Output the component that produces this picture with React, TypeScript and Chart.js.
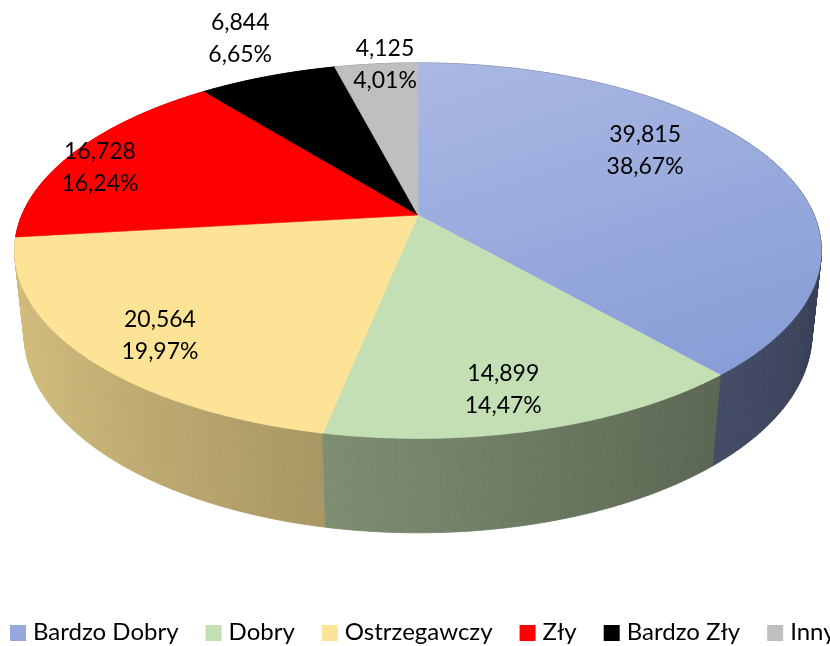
import React, { useEffect, useRef } from "react";
import { Chart, registerables } from "chart.js";

Chart.register(...registerables);

// ---- data ----
const categories = ["Bardzo Dobry", "Dobry", "Ostrzegawczy", "Zły", "Bardzo Zły", "Inny"];
const counts = [39815, 14899, 20564, 16728, 6844, 4125];
const shares = [38.67, 14.47, 19.97, 16.24, 6.65, 4.01];

// ---- styles ----
const topBack = ["#aab8e3", "#c5dfb4", "#fde396", "#ff0000", "#000000", "#bfbfbf"];
const topFront = ["#889dd7", "#c5dfb4", "#fde396", "#ff0000", "#000000", "#bfbfbf"];
const legendColors = ["#97a9dc", "#c5dfb4", "#fde396", "#ff0000", "#000000", "#bfbfbf"];
const sideBase: number[][] = [
  [140, 158, 214],
  [190, 214, 172],
  [253, 227, 150],
  [255, 0, 0],
  [0, 0, 0],
  [191, 191, 191],
];
const labelRadius = [0.674, 0.99, 0.93, 0.844, 1.071, 0.838];
const labelShiftDeg = [-11.3, 2.2, -2.75, -4.5, 1.6, 1.5];

const FONT_FAMILY = "Lato";
const FONT_SIZE = 23;
const LEGEND_FONT_SIZE = 24;
const LEGEND_GAP = 27;

// perspective camera for the 3D look
const VIEW = { zoom: 1.842, sinA: 0.457, cosA: 0.8894, dist: 4.681, depth: 0.238 };

function makeProjector(cx: number, cy: number, K: number) {
  return (r: number, th: number, Y: number): [number, number] => {
    const X = r * Math.sin(th);
    const Z = r * Math.cos(th);
    const w = 1 + (Z * VIEW.cosA - Y * VIEW.sinA) / VIEW.dist;
    return [cx + (K * X) / w, cy - (K * (Y * VIEW.cosA + Z * VIEW.sinA)) / w];
  };
}

const pie3d = {
  id: "pie3d",
  beforeDatasetsDraw(chart: any) {
    const ctx: CanvasRenderingContext2D = chart.ctx;
    const arcs = chart.getDatasetMeta(0).data as any[];
    if (!arcs.length) return false;
    const cx = arcs[0].x;
    const cy = arcs[0].y;
    const K = arcs[0].outerRadius * VIEW.zoom;
    const P = makeProjector(cx, cy, K);
    const h = -VIEW.depth;

    // side wall strips, painted back to front
    const strips: { i: number; a: number; b: number; z: number }[] = [];
    arcs.forEach((el: any, i: number) => {
      const t1 = el.startAngle + Math.PI / 2;
      const t2 = el.endAngle + Math.PI / 2;
      const n = Math.max(1, Math.ceil((t2 - t1) / (Math.PI / 360)));
      for (let j = 0; j < n; j++) {
        const a = t1 + ((t2 - t1) * j) / n;
        const b = t1 + ((t2 - t1) * (j + 1)) / n;
        strips.push({ i, a, b, z: Math.cos((a + b) / 2) });
      }
    });
    strips.sort((p, q) => q.z - p.z);
    ctx.save();
    for (const s of strips) {
      const m = (s.a + s.b) / 2;
      const f = 0.62 - 0.22 * Math.sin(m);
      const [r, g, b] = sideBase[s.i];
      const col = `rgb(${Math.round(r * f)},${Math.round(g * f)},${Math.round(b * f)})`;
      const p1 = P(1, s.a, 0);
      const p2 = P(1, s.b, 0);
      const p3 = P(1, s.b, h);
      const p4 = P(1, s.a, h);
      ctx.beginPath();
      ctx.moveTo(p1[0], p1[1]);
      ctx.lineTo(p2[0], p2[1]);
      ctx.lineTo(p3[0], p3[1]);
      ctx.lineTo(p4[0], p4[1]);
      ctx.closePath();
      ctx.fillStyle = col;
      ctx.fill();
      ctx.strokeStyle = col;
      ctx.lineWidth = 0.8;
      ctx.stroke();
    }

    // top faces
    const yTop = P(1, 0, 0)[1];
    const yBot = P(1, Math.PI, 0)[1];
    arcs.forEach((el: any, i: number) => {
      const t1 = el.startAngle + Math.PI / 2;
      const t2 = el.endAngle + Math.PI / 2;
      const n = Math.max(2, Math.ceil((t2 - t1) / (Math.PI / 360)));
      ctx.beginPath();
      const c = P(0, 0, 0);
      ctx.moveTo(c[0], c[1]);
      for (let j = 0; j <= n; j++) {
        const p = P(1, t1 + ((t2 - t1) * j) / n, 0);
        ctx.lineTo(p[0], p[1]);
      }
      ctx.closePath();
      const grad = ctx.createLinearGradient(cx, yTop, cx + K * 0.3, yBot);
      grad.addColorStop(0, topBack[i]);
      grad.addColorStop(1, topFront[i]);
      ctx.fillStyle = grad;
      ctx.fill();
      ctx.strokeStyle = grad;
      ctx.lineWidth = 0.6;
      ctx.stroke();
    });
    ctx.restore();
    return false;
  },
  afterDraw(chart: any) {
    const ctx: CanvasRenderingContext2D = chart.ctx;
    const arcs = chart.getDatasetMeta(0).data as any[];
    if (!arcs.length) return;
    const cx = arcs[0].x;
    const cy = arcs[0].y;
    const K = arcs[0].outerRadius * VIEW.zoom;
    ctx.save();
    ctx.font = `${FONT_SIZE}px ${FONT_FAMILY}`;
    ctx.fillStyle = "#000";
    ctx.textAlign = "center";
    ctx.textBaseline = "middle";
    arcs.forEach((el: any, i: number) => {
      const mid = (el.startAngle + el.endAngle) / 2 + Math.PI / 2 + (labelShiftDeg[i] * Math.PI) / 180;
      const r = labelRadius[i];
      const x = cx + K * r * Math.sin(mid);
      const y = cy - K * VIEW.sinA * r * Math.cos(mid);
      ctx.fillText(counts[i].toLocaleString("en-US"), x, y - 16);
      ctx.fillText(shares[i].toFixed(2).replace(".", ",") + "%", x, y + 16);
    });

    // legend (single row, overflowing on the right like the reference)
    ctx.font = `${LEGEND_FONT_SIZE}px ${FONT_FAMILY}`;
    ctx.textAlign = "left";
    ctx.textBaseline = "alphabetic";
    let lx = 10;
    const box = 16;
    const baseY = chart.height - 6;
    categories.forEach((name, i) => {
      ctx.fillStyle = legendColors[i];
      ctx.fillRect(lx, baseY - 15, box, box);
      ctx.fillStyle = "#000";
      ctx.fillText(name, lx + box + 7, baseY);
      lx += box + 7 + ctx.measureText(name).width + LEGEND_GAP;
    });
    ctx.restore();
  },
};

export default function App() {
  const ref = useRef<HTMLCanvasElement | null>(null);
  useEffect(() => {
    if (!ref.current) return;
    const chart = new Chart(ref.current, {
      type: "pie",
      data: {
        labels: categories,
        datasets: [
          {
            data: counts,
            backgroundColor: legendColors,
            borderWidth: 0,
          },
        ],
      },
      options: {
        responsive: false,
        animation: false,
        devicePixelRatio: 1,
        events: [],
        layout: { padding: { left: 6, right: 0, top: 0, bottom: 216 } },
        plugins: {
          legend: { display: false },
          tooltip: { enabled: false },
        },
      },
      plugins: [pie3d],
    });
    if ((document as any).fonts && (document as any).fonts.load) {
      (document as any).fonts.load(`${FONT_SIZE}px ${FONT_FAMILY}`).then(() => chart.draw());
    }
    return () => chart.destroy();
  }, []);
  return (
    <div style={{ position: "absolute", left: 0, top: 0, width: 830, height: 646, background: "#fff" }}>
      <canvas ref={ref} width={830} height={646} style={{ display: "block" }} />
    </div>
  );
}
